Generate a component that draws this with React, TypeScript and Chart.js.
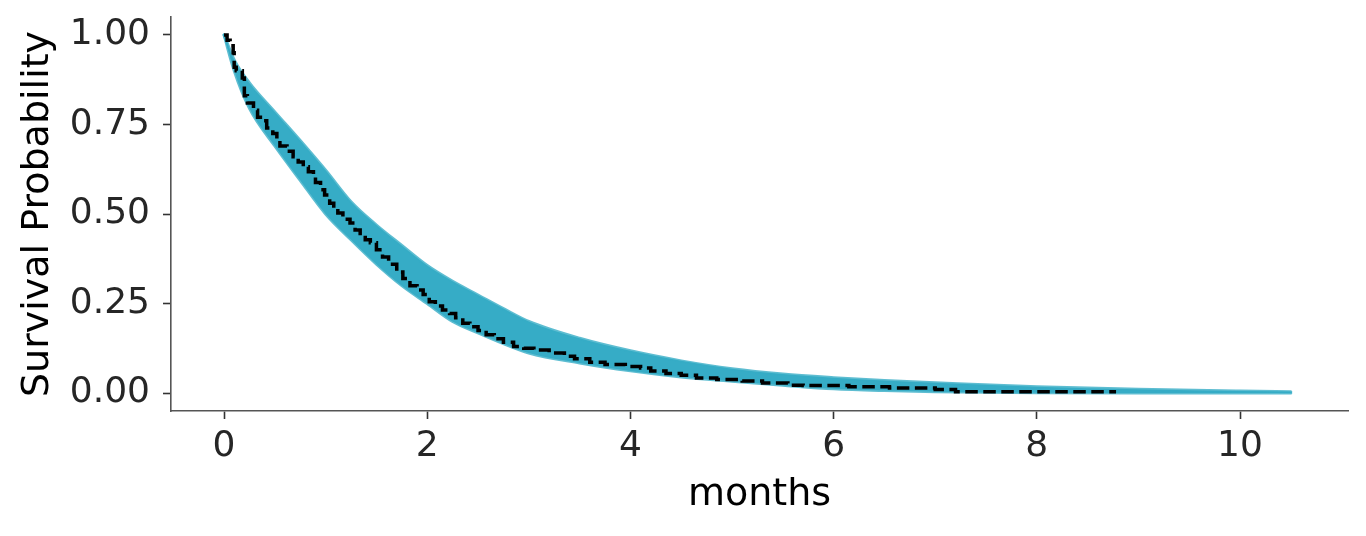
import React, { useEffect, useRef } from 'react';
import { Chart, registerables } from 'chart.js';

Chart.register(...registerables);

const FONT = "'DejaVu Sans', sans-serif";

// Posterior survival band (outer edges of the bundle of sampled curves)
const bandTimes = [0, 0.1, 0.25, 0.5, 0.75, 1, 1.25, 1.5, 1.75, 2, 2.25, 2.5, 2.75, 3, 3.5, 4, 4.5, 5, 5.5, 6, 6.5, 7, 8, 9, 10, 10.5];
const bandUpper = [1.0, 0.93, 0.866, 0.785, 0.705, 0.622, 0.534, 0.469, 0.412, 0.356, 0.312, 0.274, 0.236, 0.2, 0.153, 0.118, 0.09, 0.068, 0.053, 0.043, 0.035, 0.029, 0.018, 0.011, 0.006, 0.004];
const bandLower = [1.0, 0.9, 0.795, 0.69, 0.594, 0.5, 0.428, 0.36, 0.3, 0.25, 0.2, 0.168, 0.138, 0.112, 0.084, 0.062, 0.045, 0.033, 0.022, 0.012, 0.007, 0.004, 0.001, 0, 0, 0];

// Kaplan-Meier estimate (step function)
const kmTimes = [0, 0.03, 0.06, 0.09, 0.1, 0.12, 0.18, 0.2, 0.23, 0.29, 0.33, 0.38, 0.42, 0.48, 0.52, 0.55, 0.62, 0.68, 0.73, 0.78, 0.83, 0.88, 0.9, 0.95, 0.99, 1.04, 1.08, 1.12, 1.17, 1.24, 1.29, 1.34, 1.39, 1.44, 1.5, 1.56, 1.62, 1.7, 1.76, 1.83, 1.9, 1.96, 2.02, 2.08, 2.15, 2.22, 2.28, 2.35, 2.42, 2.5, 2.58, 2.66, 2.75, 2.85, 2.95, 3.05, 3.2, 3.35, 3.45, 3.6, 3.75, 3.95, 4.1, 4.2, 4.35, 4.5, 4.65, 4.85, 5.1, 5.3, 5.55, 5.7, 6.15, 6.55, 7.0, 7.2, 8.78];
const kmSurv = [1.0, 0.985, 0.97, 0.95, 0.91, 0.9, 0.88, 0.83, 0.81, 0.79, 0.77, 0.76, 0.74, 0.725, 0.71, 0.69, 0.675, 0.66, 0.645, 0.632, 0.618, 0.604, 0.588, 0.568, 0.553, 0.53, 0.515, 0.503, 0.485, 0.475, 0.455, 0.44, 0.428, 0.42, 0.4, 0.38, 0.36, 0.338, 0.32, 0.3, 0.288, 0.275, 0.255, 0.243, 0.232, 0.222, 0.21, 0.195, 0.185, 0.175, 0.163, 0.152, 0.142, 0.13, 0.125, 0.12, 0.112, 0.103, 0.096, 0.086, 0.08, 0.074, 0.07, 0.062, 0.055, 0.05, 0.042, 0.038, 0.034, 0.028, 0.022, 0.021, 0.018, 0.014, 0.01, 0.004, 0.004];

const xTicks = [0, 2, 4, 6, 8, 10];
const yTicks = [0, 0.25, 0.5, 0.75, 1.0];

const BLUE = 'rgb(54,172,198)';

export default function App() {
  const ref = useRef<HTMLCanvasElement>(null);

  useEffect(() => {
    const canvas = ref.current;
    if (!canvas) return;
    const chart = new Chart(canvas, {
      type: 'line',
      data: {
        datasets: [
          {
            label: 'Kaplan-Meier',
            data: kmTimes.map((t, i) => ({ x: t, y: kmSurv[i] })),
            borderColor: '#000000',
            borderWidth: 3.5,
            borderDash: [12.5, 5.5],
            stepped: 'before',
            pointRadius: 0,
            fill: false,
          },
          {
            label: 'upper',
            data: bandTimes.map((t, i) => ({ x: t, y: bandUpper[i] })),
            borderColor: 'rgba(54,172,198,0.8)',
            borderWidth: 3,
            borderCapStyle: 'round',
            borderJoinStyle: 'round',
            backgroundColor: BLUE,
            cubicInterpolationMode: 'monotone',
            pointRadius: 0,
            fill: '+1',
          },
          {
            label: 'lower',
            data: bandTimes.map((t, i) => ({ x: t, y: bandLower[i] })),
            borderColor: 'rgba(54,172,198,0.8)',
            borderWidth: 3,
            borderCapStyle: 'round',
            borderJoinStyle: 'round',
            cubicInterpolationMode: 'monotone',
            pointRadius: 0,
            fill: false,
          },
        ],
      },
      options: {
        animation: false,
        responsive: false,
        layout: { padding: { top: 17, right: 18, left: 0, bottom: 0 } },
        plugins: {
          legend: { display: false },
          tooltip: { enabled: false },
        },
        scales: {
          x: {
            type: 'linear',
            min: -0.522,
            max: 11.063,
            afterBuildTicks: (s: any) => {
              s.ticks = xTicks.map((v) => ({ value: v }));
            },
            afterFit: (s: any) => {
              s.height = 125;
              s.paddingLeft = 0;
              s.paddingRight = 0;
            },
            grid: {
              display: true,
              drawOnChartArea: false,
              drawTicks: true,
              tickLength: 8,
              tickWidth: 1.6,
              tickColor: '#333333',
            },
            border: { display: true, color: '#555555', width: 1.6 },
            ticks: {
              font: { family: FONT, size: 36 },
              color: '#262626',
              padding: 6,
              maxRotation: 0,
              autoSkip: false,
              callback: (v: any) => String(v),
            },
            title: {
              display: true,
              text: 'months',
              font: { family: FONT, size: 38 },
              color: '#000000',
              padding: { top: 0, bottom: 18 },
            },
          },
          y: {
            type: 'linear',
            min: -0.05,
            max: 1.05,
            afterBuildTicks: (s: any) => {
              s.ticks = yTicks.map((v) => ({ value: v }));
            },
            afterFit: (s: any) => {
              s.width = 171;
              s.paddingTop = 0;
              s.paddingBottom = 0;
            },
            grid: {
              display: true,
              drawOnChartArea: false,
              drawTicks: true,
              tickLength: 8,
              tickWidth: 1.6,
              tickColor: '#333333',
            },
            border: { display: true, color: '#555555', width: 1.6 },
            ticks: {
              font: { family: FONT, size: 36 },
              color: '#262626',
              padding: 13,
              autoSkip: false,
              callback: (v: any) => Number(v).toFixed(2),
            },
            title: {
              display: true,
              text: 'Survival Probability',
              font: { family: FONT, size: 38 },
              color: '#000000',
              padding: { top: 15, bottom: 0 },
            },
          },
        },
      },
    });
    return () => chart.destroy();
  }, []);

  return (
    <div style={{ position: 'absolute', left: 0, top: 0, width: 1366, height: 536 }}>
      <canvas ref={ref} width={1366} height={536} style={{ width: 1366, height: 536 }} />
    </div>
  );
}
